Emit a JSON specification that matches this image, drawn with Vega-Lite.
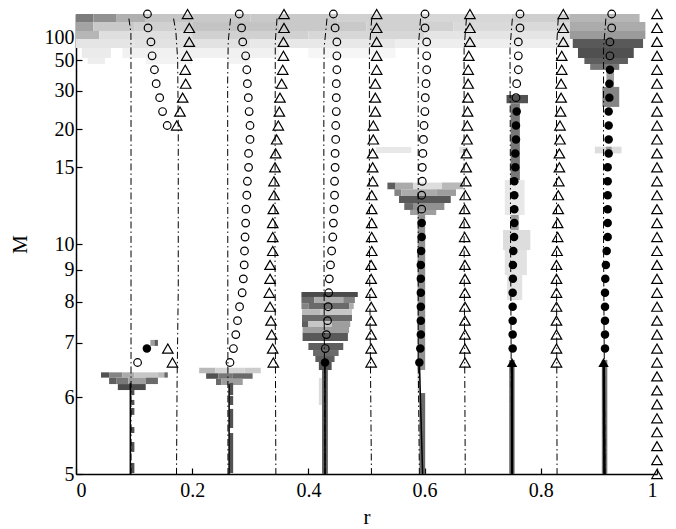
{
"$schema":"https://vega.github.io/schema/vega-lite/v6.json",
"width":581,"height":460,
"autosize":"none",
"padding":{"left":76,"top":14,"right":19,"bottom":55},
"config":{"view":{"stroke":null},"axis":{"labelFont":"Liberation Serif","titleFont":"Liberation Serif","labelFontSize":20,"titleFontSize":21,"titleFontWeight":"normal","labelColor":"black","titleColor":"black","domainColor":"black","tickColor":"black","grid":false,"domainWidth":1.5,"tickWidth":1.2}},
"datasets":{
"heat":[
{"r":0,"r2":0.03,"m":0,"m2":0.0035,"d":0.48},{"r":0.03,"r2":0.07,"m":0,"m2":0.0035,"d":0.4},{"r":0.07,"r2":0.12,"m":0,"m2":0.0035,"d":0.28},{"r":0.12,"r2":0.2,"m":0,"m2":0.0035,"d":0.2},{"r":0.2,"r2":0.3,"m":0,"m2":0.0035,"d":0.19},{"r":0.3,"r2":0.45,"m":0,"m2":0.0035,"d":0.19},{"r":0.45,"r2":0.6,"m":0,"m2":0.0035,"d":0.16},{"r":0.6,"r2":0.75,"m":0,"m2":0.0035,"d":0.14},{"r":0.75,"r2":0.85,"m":0,"m2":0.0035,"d":0.17},{"r":0.85,"r2":0.97,"m":0,"m2":0.0035,"d":0.26},
{"r":0,"r2":0.03,"m":0.0035,"m2":0.0074,"d":0.33},{"r":0.03,"r2":0.1,"m":0.0035,"m2":0.0074,"d":0.19},{"r":0.1,"r2":0.2,"m":0.0035,"m2":0.0074,"d":0.16},{"r":0.2,"r2":0.35,"m":0.0035,"m2":0.0074,"d":0.21},{"r":0.35,"r2":0.5,"m":0.0035,"m2":0.0074,"d":0.19},{"r":0.5,"r2":0.65,"m":0.0035,"m2":0.0074,"d":0.16},{"r":0.65,"r2":0.85,"m":0.0035,"m2":0.0074,"d":0.13},{"r":0.85,"r2":0.98,"m":0.0035,"m2":0.0074,"d":0.3},
{"r":0,"r2":0.04,"m":0.0074,"m2":0.0109,"d":0.26},{"r":0.04,"r2":0.2,"m":0.0074,"m2":0.0109,"d":0.11},{"r":0.2,"r2":0.4,"m":0.0074,"m2":0.0109,"d":0.16},{"r":0.4,"r2":0.6,"m":0.0074,"m2":0.0109,"d":0.14},{"r":0.6,"r2":0.85,"m":0.0074,"m2":0.0109,"d":0.09},{"r":0.85,"r2":0.98,"m":0.0074,"m2":0.0109,"d":0.36},
{"r":0,"r2":0.1,"m":0.0109,"m2":0.0148,"d":0.09},{"r":0.1,"r2":0.3,"m":0.0109,"m2":0.0148,"d":0.1},{"r":0.3,"r2":0.55,"m":0.0109,"m2":0.0148,"d":0.08},{"r":0.55,"r2":0.85,"m":0.0109,"m2":0.0148,"d":0.06},{"r":0.855,"r2":0.976,"m":0.0109,"m2":0.0148,"d":0.62},
{"r":0.01,"r2":0.06,"m":0.0148,"m2":0.0191,"d":0.07},{"r":0.08,"r2":0.35,"m":0.0148,"m2":0.0191,"d":0.05},{"r":0.4,"r2":0.55,"m":0.0148,"m2":0.0191,"d":0.03},{"r":0.864,"r2":0.96,"m":0.0148,"m2":0.0191,"d":0.66},
{"r":0.02,"r2":0.05,"m":0.0191,"m2":0.0217,"d":0.06},{"r":0.12,"r2":0.2,"m":0.0191,"m2":0.0217,"d":0.04},{"r":0.26,"r2":0.3,"m":0.0191,"m2":0.0217,"d":0.04},{"r":0.875,"r2":0.95,"m":0.0191,"m2":0.0217,"d":0.6},
{"r":0.885,"r2":0.935,"m":0.0217,"m2":0.0243,"d":0.5},
{"r":0.913,"r2":0.926,"m":0.0243,"m2":0.0317,"d":0.35},{"r":0.906,"r2":0.935,"m":0.0317,"m2":0.0404,"d":0.45},{"r":0.893,"r2":0.939,"m":0.0577,"m2":0.0606,"d":0.12},{"r":0.912,"r2":0.922,"m":0.0577,"m2":0.0622,"d":0.35},{"r":0.905,"r2":0.9145,"m":0.1504,"m2":0.2,"d":0.5},
{"r":0.043,"r2":0.057,"m":0.1558,"m2":0.1581,"d":0.65},{"r":0.057,"r2":0.08,"m":0.1558,"m2":0.1581,"d":0.45},{"r":0.08,"r2":0.1,"m":0.1558,"m2":0.1581,"d":0.3},{"r":0.1,"r2":0.14,"m":0.1558,"m2":0.1581,"d":0.2},{"r":0.14,"r2":0.152,"m":0.1558,"m2":0.1581,"d":0.25},{"r":0.152,"r2":0.158,"m":0.1558,"m2":0.1581,"d":0.55},
{"r":0.057,"r2":0.07,"m":0.1581,"m2":0.1609,"d":0.6},{"r":0.07,"r2":0.09,"m":0.1581,"m2":0.1609,"d":0.5},{"r":0.09,"r2":0.12,"m":0.1581,"m2":0.1609,"d":0.35},{"r":0.12,"r2":0.141,"m":0.1581,"m2":0.1609,"d":0.55},
{"r":0.072,"r2":0.12,"m":0.1609,"m2":0.1635,"d":0.68},
{"r":0.0945,"r2":0.1005,"m":0.1635,"m2":0.1657,"d":0.65},{"r":0.0945,"r2":0.1005,"m":0.1678,"m2":0.17,"d":0.65},{"r":0.0945,"r2":0.1005,"m":0.1713,"m2":0.1743,"d":0.65},{"r":0.0945,"r2":0.1005,"m":0.1796,"m2":0.1822,"d":0.65},{"r":0.0945,"r2":0.1005,"m":0.1861,"m2":0.1904,"d":0.65},{"r":0.0945,"r2":0.1005,"m":0.1952,"m2":0.1996,"d":0.65},
{"r":0.128,"r2":0.135,"m":0.1417,"m2":0.1443,"d":0.35},{"r":0.135,"r2":0.141,"m":0.1417,"m2":0.1443,"d":0.6},
{"r":0.212,"r2":0.24,"m":0.1538,"m2":0.1562,"d":0.25},{"r":0.24,"r2":0.29,"m":0.1538,"m2":0.1562,"d":0.15},{"r":0.29,"r2":0.318,"m":0.1538,"m2":0.1562,"d":0.18},
{"r":0.224,"r2":0.245,"m":0.1562,"m2":0.1586,"d":0.65},{"r":0.245,"r2":0.27,"m":0.1562,"m2":0.1586,"d":0.5},{"r":0.27,"r2":0.304,"m":0.1562,"m2":0.1586,"d":0.55},
{"r":0.241,"r2":0.25,"m":0.1586,"m2":0.1613,"d":0.55},{"r":0.25,"r2":0.287,"m":0.1586,"m2":0.1613,"d":0.35},
{"r":0.264,"r2":0.2705,"m":0.1604,"m2":0.1657,"d":0.65},{"r":0.264,"r2":0.2705,"m":0.1661,"m2":0.17,"d":0.65},{"r":0.264,"r2":0.2705,"m":0.1717,"m2":0.18,"d":0.65},{"r":0.264,"r2":0.2705,"m":0.1822,"m2":0.1996,"d":0.65},
{"r":0.388,"r2":0.485,"m":0.1209,"m2":0.123,"d":0.68},
{"r":0.388,"r2":0.41,"m":0.123,"m2":0.1257,"d":0.55},{"r":0.41,"r2":0.46,"m":0.123,"m2":0.1257,"d":0.3},{"r":0.46,"r2":0.48,"m":0.123,"m2":0.1257,"d":0.45},
{"r":0.388,"r2":0.4,"m":0.1257,"m2":0.1283,"d":0.45},{"r":0.4,"r2":0.47,"m":0.1257,"m2":0.1283,"d":0.55},{"r":0.47,"r2":0.478,"m":0.1257,"m2":0.1283,"d":0.3},
{"r":0.389,"r2":0.42,"m":0.1283,"m2":0.1309,"d":0.25},{"r":0.42,"r2":0.475,"m":0.1283,"m2":0.1309,"d":0.2},
{"r":0.389,"r2":0.475,"m":0.1309,"m2":0.1335,"d":0.55},
{"r":0.389,"r2":0.4,"m":0.1335,"m2":0.1361,"d":0.6},{"r":0.4,"r2":0.44,"m":0.1335,"m2":0.1361,"d":0.2},{"r":0.44,"r2":0.472,"m":0.1335,"m2":0.1361,"d":0.35},
{"r":0.39,"r2":0.47,"m":0.1361,"m2":0.1387,"d":0.35},
{"r":0.39,"r2":0.468,"m":0.1387,"m2":0.1422,"d":0.62},
{"r":0.4,"r2":0.46,"m":0.143,"m2":0.1461,"d":0.6},{"r":0.408,"r2":0.452,"m":0.1461,"m2":0.1487,"d":0.55},{"r":0.412,"r2":0.445,"m":0.1487,"m2":0.1513,"d":0.6},{"r":0.418,"r2":0.44,"m":0.1513,"m2":0.1548,"d":0.65},
{"r":0.4235,"r2":0.4335,"m":0.1548,"m2":0.2,"d":0.6},{"r":0.418,"r2":0.4235,"m":0.1583,"m2":0.17,"d":0.12},
{"r":0.516,"r2":0.577,"m":0.0578,"m2":0.0604,"d":0.08},{"r":0.66,"r2":0.675,"m":0.0578,"m2":0.0604,"d":0.1},
{"r":0.536,"r2":0.55,"m":0.0733,"m2":0.0762,"d":0.6},{"r":0.55,"r2":0.58,"m":0.0733,"m2":0.0762,"d":0.3},{"r":0.58,"r2":0.63,"m":0.0733,"m2":0.0762,"d":0.12},{"r":0.63,"r2":0.666,"m":0.0733,"m2":0.0762,"d":0.25},
{"r":0.548,"r2":0.56,"m":0.0762,"m2":0.0791,"d":0.45},{"r":0.56,"r2":0.62,"m":0.0762,"m2":0.0791,"d":0.3},{"r":0.62,"r2":0.654,"m":0.0762,"m2":0.0791,"d":0.35},
{"r":0.556,"r2":0.645,"m":0.0791,"m2":0.0822,"d":0.62},
{"r":0.565,"r2":0.58,"m":0.0822,"m2":0.0852,"d":0.55},{"r":0.58,"r2":0.634,"m":0.0822,"m2":0.0852,"d":0.4},
{"r":0.575,"r2":0.62,"m":0.0852,"m2":0.0874,"d":0.35},
{"r":0.588,"r2":0.601,"m":0.0874,"m2":0.1548,"d":0.4},{"r":0.588,"r2":0.593,"m":0.1548,"m2":0.1648,"d":0.2},{"r":0.591,"r2":0.601,"m":0.1648,"m2":0.2,"d":0.55},
{"r":0.741,"r2":0.778,"m":0.0352,"m2":0.0388,"d":0.65},
{"r":0.748,"r2":0.764,"m":0.0388,"m2":0.0722,"d":0.5},{"r":0.748,"r2":0.762,"m":0.0722,"m2":0.1243,"d":0.35},
{"r":0.738,"r2":0.772,"m":0.0722,"m2":0.0874,"d":0.08},{"r":0.735,"r2":0.782,"m":0.0939,"m2":0.1026,"d":0.12},{"r":0.738,"r2":0.776,"m":0.1026,"m2":0.1135,"d":0.1},{"r":0.742,"r2":0.768,"m":0.1135,"m2":0.1243,"d":0.1},
{"r":0.7455,"r2":0.755,"m":0.1504,"m2":0.2,"d":0.5}
],
"open":[
{"r":0.123,"m":0},{"r":0.124,"m":0.00606},{"r":0.129,"m":0.01212},{"r":0.131,"m":0.01818},{"r":0.135,"m":0.02424},{"r":0.138,"m":0.0303},{"r":0.144,"m":0.03636},{"r":0.149,"m":0.04242},{"r":0.157,"m":0.04848},{"r":0.106,"m":0.15152},
{"r":0.281,"m":0},{"r":0.285,"m":0.00606},{"r":0.287,"m":0.01212},{"r":0.292,"m":0.01818},{"r":0.294,"m":0.02424},{"r":0.295,"m":0.0303},{"r":0.2966,"m":0.03636},{"r":0.298,"m":0.04242},{"r":0.2995,"m":0.04848},{"r":0.2995,"m":0.05455},{"r":0.297,"m":0.06061},{"r":0.297,"m":0.06667},{"r":0.295,"m":0.07273},{"r":0.294,"m":0.07879},{"r":0.2926,"m":0.08485},{"r":0.292,"m":0.09091},{"r":0.291,"m":0.09697},{"r":0.29,"m":0.10303},{"r":0.2895,"m":0.10909},{"r":0.288,"m":0.11515},{"r":0.286,"m":0.12121},{"r":0.2815,"m":0.12727},{"r":0.278,"m":0.13333},{"r":0.275,"m":0.13939},{"r":0.271,"m":0.14545},{"r":0.265,"m":0.15152},
{"r":0.443,"m":0},{"r":0.446,"m":0.00606},{"r":0.449,"m":0.01212},{"r":0.449,"m":0.01818},{"r":0.449,"m":0.02424},{"r":0.448,"m":0.0303},{"r":0.448,"m":0.03636},{"r":0.448,"m":0.04242},{"r":0.447,"m":0.04848},{"r":0.447,"m":0.05455},{"r":0.446,"m":0.06061},{"r":0.446,"m":0.06667},{"r":0.445,"m":0.07273},{"r":0.445,"m":0.07879},{"r":0.444,"m":0.08485},{"r":0.443,"m":0.09091},{"r":0.442,"m":0.09697},{"r":0.44,"m":0.10303},{"r":0.438,"m":0.10909},{"r":0.436,"m":0.11515},{"r":0.435,"m":0.12121},{"r":0.434,"m":0.12727},{"r":0.433,"m":0.13333},{"r":0.431,"m":0.13939},{"r":0.429,"m":0.14545},
{"r":0.6007,"m":0},{"r":0.6007,"m":0.00606},{"r":0.6036,"m":0.01212},{"r":0.6036,"m":0.01818},{"r":0.6036,"m":0.02424},{"r":0.6024,"m":0.0303},{"r":0.6012,"m":0.03636},{"r":0.6005,"m":0.04242},{"r":0.599,"m":0.04848},{"r":0.598,"m":0.05455},{"r":0.597,"m":0.06061},{"r":0.596,"m":0.06667},{"r":0.596,"m":0.07273},{"r":0.595,"m":0.07879},{"r":0.595,"m":0.08485},
{"r":0.7642,"m":0},{"r":0.7642,"m":0.00606},{"r":0.7613,"m":0.01212},{"r":0.7613,"m":0.01818},{"r":0.7613,"m":0.02424},{"r":0.7585,"m":0.0303},{"r":0.7573,"m":0.03636},
{"r":0.922,"m":0},{"r":0.922,"m":0.00606},{"r":0.919,"m":0.01212},{"r":0.919,"m":0.01818}
],
"dots":[
{"r":0.122,"m":0.14545},{"r":0.4286,"m":0.15152},
{"r":0.595,"m":0.09091},{"r":0.595,"m":0.09697},{"r":0.594,"m":0.10303},{"r":0.5935,"m":0.10909},{"r":0.5935,"m":0.11515},{"r":0.5935,"m":0.12121},{"r":0.5935,"m":0.12727},{"r":0.5935,"m":0.13333},{"r":0.5935,"m":0.13939},{"r":0.5926,"m":0.14545},{"r":0.591,"m":0.15152},
{"r":0.7585,"m":0.04242},{"r":0.7573,"m":0.04848},{"r":0.7573,"m":0.05455},{"r":0.7561,"m":0.06061},{"r":0.7561,"m":0.06667},{"r":0.7544,"m":0.07273},{"r":0.7544,"m":0.07879},{"r":0.7544,"m":0.08485},{"r":0.7544,"m":0.09091},{"r":0.754,"m":0.09697},{"r":0.7527,"m":0.10303},{"r":0.752,"m":0.10909},{"r":0.752,"m":0.11515},{"r":0.7516,"m":0.12121},{"r":0.7516,"m":0.12727},{"r":0.7516,"m":0.13333},{"r":0.7516,"m":0.13939},{"r":0.7516,"m":0.14545},
{"r":0.919,"m":0.02424},{"r":0.918,"m":0.0303},{"r":0.918,"m":0.03636},{"r":0.9168,"m":0.04242},{"r":0.9168,"m":0.04848},{"r":0.9168,"m":0.05455},{"r":0.9168,"m":0.06061},{"r":0.9151,"m":0.06667},{"r":0.9151,"m":0.07273},{"r":0.9151,"m":0.07879},{"r":0.9151,"m":0.08485},{"r":0.9151,"m":0.09091},{"r":0.9151,"m":0.09697},{"r":0.9134,"m":0.10303},{"r":0.912,"m":0.10909},{"r":0.911,"m":0.11515},{"r":0.9105,"m":0.12121},{"r":0.9105,"m":0.12727},{"r":0.9105,"m":0.13333},{"r":0.9105,"m":0.13939},{"r":0.9105,"m":0.14545}
],
"ftri":[{"r":0.7505,"m":0.15152},{"r":0.908,"m":0.15152}],
"tri":[
{"r":0.192,"m":0},{"r":0.195,"m":0.00606},{"r":0.195,"m":0.01212},{"r":0.1905,"m":0.01818},{"r":0.188,"m":0.02424},{"r":0.1888,"m":0.0303},{"r":0.1836,"m":0.03636},{"r":0.179,"m":0.04242},{"r":0.1733,"m":0.04848},{"r":0.158,"m":0.14545},{"r":0.166,"m":0.15152},
{"r":0.358,"m":0},{"r":0.358,"m":0.00606},{"r":0.357,"m":0.01212},{"r":0.357,"m":0.01818},{"r":0.3558,"m":0.02424},{"r":0.354,"m":0.0303},{"r":0.3511,"m":0.03636},{"r":0.35,"m":0.04242},{"r":0.3482,"m":0.04848},{"r":0.3454,"m":0.05455},{"r":0.3437,"m":0.06061},{"r":0.3425,"m":0.06667},{"r":0.3408,"m":0.07273},{"r":0.3408,"m":0.07879},{"r":0.3396,"m":0.08485},{"r":0.3386,"m":0.09091},{"r":0.3386,"m":0.09697},{"r":0.3386,"m":0.10303},{"r":0.334,"m":0.10909},{"r":0.334,"m":0.11515},{"r":0.3327,"m":0.12121},{"r":0.334,"m":0.12727},{"r":0.3356,"m":0.13333},{"r":0.3368,"m":0.13939},{"r":0.3385,"m":0.14545},{"r":0.3396,"m":0.15152},
{"r":0.5175,"m":0},{"r":0.5175,"m":0.00606},{"r":0.5175,"m":0.01212},{"r":0.5175,"m":0.01818},{"r":0.5175,"m":0.02424},{"r":0.5152,"m":0.0303},{"r":0.5152,"m":0.03636},{"r":0.5152,"m":0.04242},{"r":0.5117,"m":0.04848},{"r":0.5117,"m":0.05455},{"r":0.5106,"m":0.06061},{"r":0.5106,"m":0.06667},{"r":0.5106,"m":0.07273},{"r":0.509,"m":0.07879},{"r":0.509,"m":0.08485},{"r":0.509,"m":0.09091},{"r":0.509,"m":0.09697},{"r":0.509,"m":0.10303},{"r":0.508,"m":0.10909},{"r":0.508,"m":0.11515},{"r":0.508,"m":0.12121},{"r":0.508,"m":0.12727},{"r":0.508,"m":0.13333},{"r":0.508,"m":0.13939},{"r":0.508,"m":0.14545},{"r":0.508,"m":0.15152},
{"r":0.678,"m":0},{"r":0.678,"m":0.00606},{"r":0.678,"m":0.01212},{"r":0.676,"m":0.01818},{"r":0.675,"m":0.02424},{"r":0.675,"m":0.0303},{"r":0.6745,"m":0.03636},{"r":0.674,"m":0.04242},{"r":0.6735,"m":0.04848},{"r":0.673,"m":0.05455},{"r":0.672,"m":0.06061},{"r":0.6715,"m":0.06667},{"r":0.671,"m":0.07273},{"r":0.67,"m":0.07879},{"r":0.669,"m":0.08485},{"r":0.669,"m":0.09091},{"r":0.669,"m":0.09697},{"r":0.669,"m":0.10303},{"r":0.6695,"m":0.10909},{"r":0.6695,"m":0.11515},{"r":0.6695,"m":0.12121},{"r":0.6695,"m":0.12727},{"r":0.6695,"m":0.13333},{"r":0.6695,"m":0.13939},{"r":0.6695,"m":0.14545},{"r":0.6695,"m":0.15152},
{"r":0.8387,"m":0},{"r":0.8387,"m":0.00606},{"r":0.8387,"m":0.01212},{"r":0.836,"m":0.01818},{"r":0.836,"m":0.02424},{"r":0.835,"m":0.0303},{"r":0.835,"m":0.03636},{"r":0.834,"m":0.04242},{"r":0.833,"m":0.04848},{"r":0.833,"m":0.05455},{"r":0.832,"m":0.06061},{"r":0.832,"m":0.06667},{"r":0.831,"m":0.07273},{"r":0.83,"m":0.07879},{"r":0.83,"m":0.08485},{"r":0.829,"m":0.09091},{"r":0.829,"m":0.09697},{"r":0.828,"m":0.10303},{"r":0.827,"m":0.10909},{"r":0.827,"m":0.11515},{"r":0.827,"m":0.12121},{"r":0.827,"m":0.12727},{"r":0.827,"m":0.13333},{"r":0.827,"m":0.13939},{"r":0.827,"m":0.14545},{"r":0.827,"m":0.15152},
{"r":1,"m":0},{"r":1,"m":0.00606},{"r":1,"m":0.01212},{"r":1,"m":0.01818},{"r":1,"m":0.02424},{"r":1,"m":0.0303},{"r":1,"m":0.03636},{"r":1,"m":0.04242},{"r":1,"m":0.04848},{"r":1,"m":0.05455},{"r":1,"m":0.06061},{"r":1,"m":0.06667},{"r":1,"m":0.07273},{"r":1,"m":0.07879},{"r":1,"m":0.08485},{"r":1,"m":0.09091},{"r":1,"m":0.09697},{"r":1,"m":0.10303},{"r":1,"m":0.10909},{"r":1,"m":0.11515},{"r":1,"m":0.12121},{"r":1,"m":0.12727},{"r":1,"m":0.13333},{"r":1,"m":0.13939},{"r":1,"m":0.14545},{"r":1,"m":0.15152},{"r":1,"m":0.15758},{"r":1,"m":0.16364},{"r":1,"m":0.1697},{"r":1,"m":0.17576},{"r":1,"m":0.18182},{"r":1,"m":0.18788},{"r":1,"m":0.19394},{"r":1,"m":0.2}
],
"dd":[
{"id":1,"r":0.091,"m":0.002},{"id":1,"r":0.0945,"m":0.008},{"id":1,"r":0.0947,"m":0.03},{"id":1,"r":0.0947,"m":0.2},
{"id":2,"r":0.168,"m":0.002},{"id":2,"r":0.172,"m":0.008},{"id":2,"r":0.175,"m":0.02},{"id":2,"r":0.176,"m":0.05},{"id":2,"r":0.176,"m":0.12},{"id":2,"r":0.174,"m":0.16},{"id":2,"r":0.173,"m":0.2},
{"id":3,"r":0.266,"m":0.002},{"id":3,"r":0.262,"m":0.012},{"id":3,"r":0.261,"m":0.03},{"id":3,"r":0.2616,"m":0.2},
{"id":4,"r":0.346,"m":0.002},{"id":4,"r":0.343,"m":0.012},{"id":4,"r":0.3425,"m":0.1},{"id":4,"r":0.344,"m":0.2},
{"id":5,"r":0.432,"m":0.002},{"id":5,"r":0.427,"m":0.015},{"id":5,"r":0.4265,"m":0.05},{"id":5,"r":0.427,"m":0.12},{"id":5,"r":0.4286,"m":0.2},
{"id":6,"r":0.509,"m":0.002},{"id":6,"r":0.505,"m":0.015},{"id":6,"r":0.505,"m":0.1},{"id":6,"r":0.5085,"m":0.2},
{"id":7,"r":0.593,"m":0.002},{"id":7,"r":0.589,"m":0.015},{"id":7,"r":0.589,"m":0.15},{"id":7,"r":0.591,"m":0.2},
{"id":8,"r":0.672,"m":0.002},{"id":8,"r":0.668,"m":0.015},{"id":8,"r":0.668,"m":0.1},{"id":8,"r":0.67,"m":0.2},
{"id":9,"r":0.751,"m":0.002},{"id":9,"r":0.747,"m":0.015},{"id":9,"r":0.748,"m":0.1},{"id":9,"r":0.75,"m":0.2},
{"id":10,"r":0.83,"m":0.002},{"id":10,"r":0.827,"m":0.015},{"id":10,"r":0.827,"m":0.1},{"id":10,"r":0.828,"m":0.2},
{"id":11,"r":0.912,"m":0.002},{"id":11,"r":0.908,"m":0.015},{"id":11,"r":0.908,"m":0.1},{"id":11,"r":0.9105,"m":0.2}
],
"thin":[
{"id":1,"r":0.0935,"m":0.1605},{"id":1,"r":0.0935,"m":0.2},
{"id":2,"r":0.2635,"m":0.161},{"id":2,"r":0.2635,"m":0.2},
{"id":3,"r":0.4286,"m":0.15152},{"id":3,"r":0.4286,"m":0.2},
{"id":4,"r":0.591,"m":0.15152},{"id":4,"r":0.5966,"m":0.2}
],
"thick":[
{"id":5,"r":0.7505,"m":0.15152},{"id":5,"r":0.7505,"m":0.2},
{"id":6,"r":0.9085,"m":0.15152},{"id":6,"r":0.9095,"m":0.2}
]
},
"encoding":{
"x":{"field":"r","type":"quantitative","scale":{"domain":[0,1],"nice":false,"zero":false},"axis":{"values":[0,0.2,0.4,0.6,0.8,1],"format":"~g","title":"r","tickSize":-6,"labelPadding":12,"titlePadding":6}},
"y":{"field":"m","type":"quantitative","scale":{"domain":[0,0.2],"reverse":true,"nice":false,"zero":false},"axis":{"values":[0.2,0.166667,0.142857,0.125,0.111111,0.1,0.066667,0.05,0.033333,0.02,0.01],"labelExpr":"format(round(1/datum.value),'d')","title":"M","tickSize":-6,"labelPadding":8,"titlePadding":14}}
},
"layer":[
{"data":{"name":"heat"},"mark":{"type":"rect"},"encoding":{"x2":{"field":"r2"},"y2":{"field":"m2"},"color":{"field":"d","type":"quantitative","scale":{"domain":[0,1],"range":["#ffffff","#000000"]},"legend":null}}},
{"data":{"name":"dd"},"mark":{"type":"line","color":"black","strokeWidth":1,"strokeDash":[7,3,1.5,3]},"encoding":{"detail":{"field":"id"},"order":{"field":"m","type":"quantitative"}}},
{"data":{"name":"thin"},"mark":{"type":"line","color":"black","strokeWidth":1.5},"encoding":{"detail":{"field":"id"},"order":{"field":"m","type":"quantitative"}}},
{"data":{"name":"thick"},"mark":{"type":"line","color":"black","strokeWidth":2.5},"encoding":{"detail":{"field":"id"},"order":{"field":"m","type":"quantitative"}}},
{"data":{"name":"open"},"mark":{"type":"point","shape":"circle","filled":false,"stroke":"black","strokeWidth":1.2,"size":58,"opacity":1}},
{"data":{"name":"tri"},"mark":{"type":"point","shape":"triangle-up","filled":false,"stroke":"black","strokeWidth":1.2,"size":110,"opacity":1}},
{"data":{"name":"dots"},"mark":{"type":"point","shape":"circle","filled":true,"color":"black","size":72,"opacity":1}},
{"data":{"name":"ftri"},"mark":{"type":"point","shape":"triangle-up","filled":true,"color":"black","size":110,"opacity":1}}
]
}
